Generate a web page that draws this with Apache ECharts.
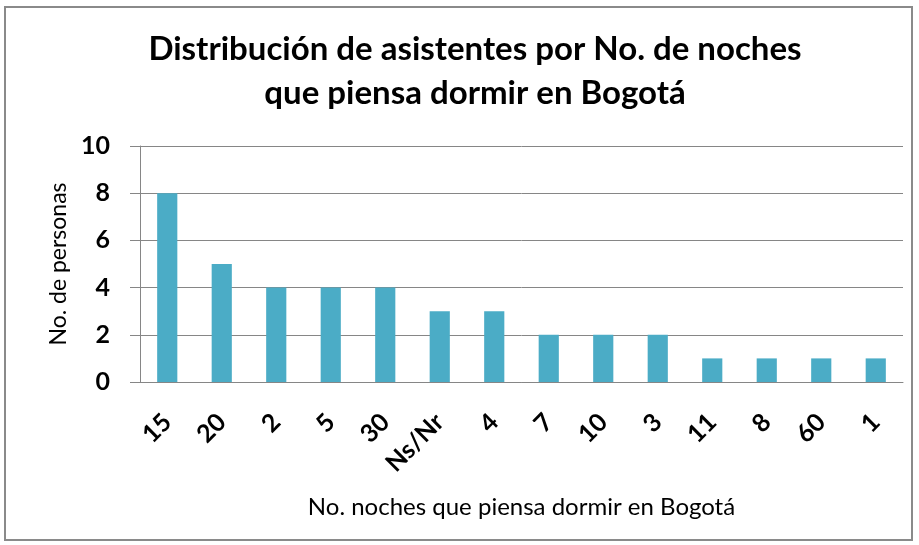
<!DOCTYPE html>
<html>
<head>
<meta charset="utf-8">
<script src="https://cdn.jsdelivr.net/npm/echarts@6/dist/echarts.min.js"></script>
<style>
html,body{margin:0;padding:0;background:#fff;}
#chart{width:919px;height:545px;}
</style>
</head>
<body>
<div id="chart"></div>
<script>
const categories = ['15','20','2','5','30','Ns/Nr','4','7','10','3','11','8','60','1'];
const values = [8,5,4,4,4,3,3,2,2,2,1,1,1,1];
const yTicks = {min:0, max:10, interval:2};

const chart = echarts.init(document.getElementById('chart'), null, {renderer:'canvas'});
const font = 'Lato, "Open Sans", sans-serif';
chart.setOption({
  animation:false,
  backgroundColor:'#fff',
  graphic:[{type:'rect', shape:{x:5,y:7,width:907,height:533}, style:{fill:'none', stroke:'#8a8a8a', lineWidth:2}, silent:true}],
  title:{
    text:'Distribución de asistentes por No. de noches\nque piensa dormir en Bogotá',
    left:470, top:22, textAlign:'center',
    textStyle:{fontFamily:font, fontWeight:'bold', fontSize:33, lineHeight:44, color:'#000'}
  },
  grid:{left:140, top:146, right:16, bottom:163, containLabel:false},
  xAxis:{
    type:'category', data:categories,
    name:'No. noches que piensa dormir en Bogotá', nameLocation:'middle', nameGap:113,
    nameTextStyle:{fontFamily:font, fontSize:24, color:'#000'},
    axisLine:{lineStyle:{color:'#868686', width:1}},
    axisTick:{show:false},
    axisLabel:{rotate:45, interval:0, fontFamily:font, fontWeight:'bold', fontSize:25, color:'#000', margin:36}
  },
  yAxis:{
    type:'value', min:yTicks.min, max:yTicks.max, interval:yTicks.interval,
    name:'No. de personas', nameLocation:'middle', nameGap:68, nameRotate:90,
    nameTextStyle:{fontFamily:font, fontSize:23, color:'#000'},
    axisLine:{show:true, lineStyle:{color:'#868686'}},
    axisTick:{show:true, length:10, lineStyle:{color:'#868686'}},
    splitLine:{lineStyle:{color:'#868686', width:1}},
    axisLabel:{fontFamily:font, fontWeight:'bold', fontSize:25, color:'#000', margin:30}
  },
  series:[{type:'bar', data:values, barWidth:'37%', itemStyle:{color:'#4BACC6'}}]
});
</script>
</body>
</html>
